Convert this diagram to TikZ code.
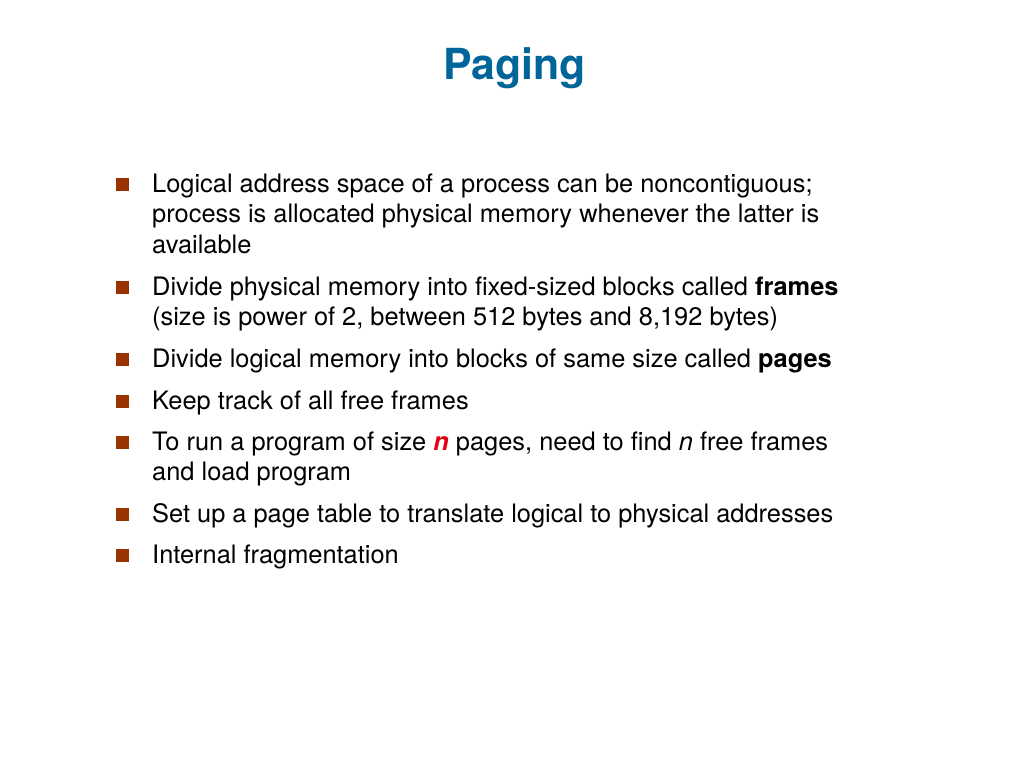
\documentclass[tikz,border=0pt]{standalone}
\usepackage{fontspec}
\setmainfont{TeX Gyre Heros}
\usetikzlibrary{positioning}

\definecolor{titleblue}{RGB}{0,102,153}
\definecolor{bulletbrown}{RGB}{153,51,0}
\definecolor{hotred}{RGB}{230,0,20}

\newcommand{\bodyfont}{\fontsize{25.4}{30.5}\selectfont}
\newcommand{\titlefont}{\fontsize{42.8}{50}\selectfont\bfseries}

\tikzset{
	slidetitle/.style = {anchor = base, inner sep = 0pt, text = titleblue, font = \titlefont},
	item/.style = {anchor = base west, align = left, inner sep = 0pt, font = \bodyfont},
	square/.style = {fill = bulletbrown, minimum size = 13.5pt, inner sep = 0pt}
}

\begin{document}
\begin{tikzpicture}[x = 1pt, y = -1pt]
	\useasboundingbox [fill = white] (0, 0) rectangle (1024, 768);
	\node [slidetitle] (title) at (514.5, 79) {Paging};

	% multi-line items sit on the baseline of their last line
	\node [item] (logical) at (152, 253) {Logical address space of a process can be noncontiguous;\\process is allocated physical memory whenever the latter is\\available};
	\node [item] (frames) at (152, 325.5) {Divide physical memory into fixed-sized blocks called \textbf{frames}\\(size is power of 2, between 512 bytes and 8,192 bytes)};
	\node [item] (pages) at (152, 367) {Divide logical memory into blocks of same size called \textbf{pages}};
	\node [item] (track) at (152, 409) {Keep track of all free frames};
	\node [item] (run) at (152, 480.5) {To run a program of size \textcolor{hotred}{\textbf{\textit{n}}} pages, need to find \textit{n} free frames\\and load program};
	\node [item] (table) at (152, 522) {Set up a page table to translate logical to physical addresses};
	\node [item] (internal) at (152, 563) {Internal fragmentation};

	\foreach \y [count = \i] in {192, 295, 367, 409, 450, 522, 563}
		\node [square] (sq\i) at (122.5, \y - 7.5) {};
\end{tikzpicture}
\end{document}
